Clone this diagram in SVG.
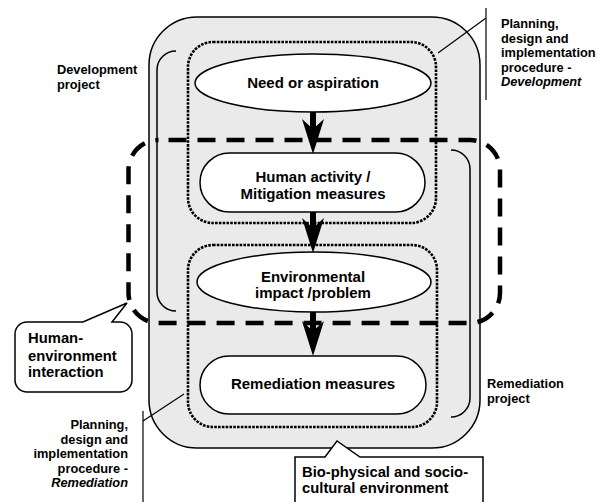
<svg xmlns="http://www.w3.org/2000/svg" width="606" height="502" viewBox="0 0 606 502">
<defs>
<style>
.t{font-family:"Liberation Sans",Arial,sans-serif;font-weight:bold;fill:#000}
.m{font-size:15px;text-anchor:middle}
.l{font-size:12.8px}
.c{font-size:14.8px}
.node{fill:#fff;stroke:#000;stroke-width:1.5}
.dot{fill:none;stroke:#000;stroke-width:2.6;stroke-dasharray:2.6 1.2}
.brk{fill:none;stroke:#000;stroke-width:1.5}
.thin{fill:none;stroke:#000;stroke-width:1.2}
.shaft{stroke:#000;stroke-width:6;marker-end:url(#ah)}
</style>
<marker id="ah" viewBox="0 0 35 22" refX="10" refY="11" markerWidth="35" markerHeight="22" markerUnits="userSpaceOnUse" orient="auto">
<path d="M0,0 L10,11 L0,22 L35,11 Z" fill="#000"/>
</marker>
</defs>

<g id="environment">
<rect x="149" y="17" width="331" height="431" rx="48" ry="48" fill="#eaeaea" stroke="#000" stroke-width="1.5"/>
</g>

<g id="development-project">
<path class="brk" d="M176,51 A19,19 0 0 0 157,70 V292 A19,19 0 0 0 176,311"/>
<text class="t l" x="57" y="74">Development</text>
<text class="t l" x="57" y="88.5">project</text>
</g>

<g id="remediation-project">
<path class="brk" d="M451,150 A19,19 0 0 1 470,169 V398 A19,19 0 0 1 451,417"/>
<text class="t l" x="487" y="388">Remediation</text>
<text class="t l" x="487" y="402.5">project</text>
</g>

<g id="procedure-development">
<rect class="dot" x="188" y="42" width="248" height="181" rx="25" ry="25"/>
<text class="t l" x="501" y="28">Planning,</text>
<text class="t l" x="501" y="42.5">design and</text>
<text class="t l" x="501" y="57">implementation</text>
<text class="t l" x="501" y="71.5">procedure -</text>
<text class="t l" x="501" y="86" font-style="italic">Development</text>
</g>

<g id="procedure-remediation">
<rect class="dot" x="188" y="245" width="249" height="182" rx="25" ry="25"/>
<text class="t l" x="128" y="429" text-anchor="end">Planning,</text>
<text class="t l" x="128" y="443.5" text-anchor="end">design and</text>
<text class="t l" x="128" y="458" text-anchor="end">implementation</text>
<text class="t l" x="128" y="472.5" text-anchor="end">procedure -</text>
<text class="t l" x="128" y="487" text-anchor="end" font-style="italic">Remediation</text>
</g>

<g id="need-or-aspiration">
<ellipse class="node" cx="313" cy="83" rx="118" ry="29"/>
<text class="t m" x="313" y="87.5">Need or aspiration</text>
</g>

<g id="human-activity">
<rect class="node" x="200" y="153" width="225" height="59" rx="29.5" ry="29.5"/>
<text class="t m" x="313" y="181.5">Human activity /</text>
<text class="t m" x="313" y="198.5">Mitigation measures</text>
</g>

<g id="environmental-impact">
<ellipse class="node" cx="314" cy="282" rx="117" ry="30"/>
<text class="t m" x="313" y="282">Environmental</text>
<text class="t m" x="313" y="298">impact /problem</text>
</g>

<g id="remediation-measures">
<rect class="node" x="200" y="356" width="226" height="58" rx="29" ry="29"/>
<text class="t m" x="313" y="389">Remediation measures</text>
</g>

<g id="connectors">
<line class="shaft" x1="313" y1="112" x2="313" y2="129"/>
<line class="shaft" x1="313" y1="212" x2="313" y2="228"/>
<line class="shaft" x1="313" y1="312" x2="313" y2="331"/>
<line class="thin" x1="438" y1="53" x2="486" y2="18"/>
<line class="thin" x1="486" y1="8" x2="486" y2="100"/>
<line class="thin" x1="184" y1="394" x2="143" y2="421"/>
<line class="thin" x1="143" y1="411" x2="143" y2="502"/>
</g>

<g id="human-environment-interaction">
<rect x="128.5" y="140" width="371.5" height="183" rx="30" ry="30" fill="none" stroke="#000" stroke-width="4.5" stroke-dasharray="18 11" stroke-dashoffset="19"/>
<path class="node" d="M27,322 H83 L127,303 L112,322 H120 A12,12 0 0 1 132,334 V380 A12,12 0 0 1 120,392 H27 A12,12 0 0 1 15,380 V334 A12,12 0 0 1 27,322 Z"/>
<text class="t c" x="28" y="343">Human-</text>
<text class="t c" x="28" y="361">environment</text>
<text class="t c" x="28" y="377">interaction</text>
</g>

<g id="bio-physical-callout">
<path class="node" d="M295,457 H325 L337,441 L360,457 H483 V512 H295 Z"/>
<text class="t c" x="302" y="477">Bio-physical and socio-</text>
<text class="t c" x="302" y="493">cultural environment</text>
</g>
</svg>
